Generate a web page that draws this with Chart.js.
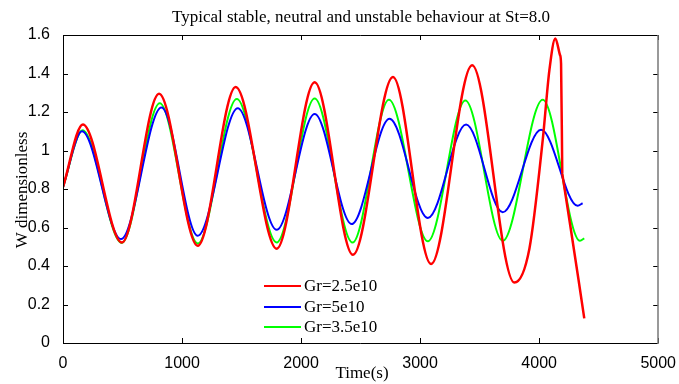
<!DOCTYPE html>
<html>
<head>
<meta charset="utf-8">
<script src="https://cdn.jsdelivr.net/npm/chart.js@4.4.1/dist/chart.umd.min.js"></script>
<style>
  html, body { margin: 0; padding: 0; background: #fff; }
  #wrap { width: 679px; height: 384px; }
</style>
</head>
<body>
<div id="wrap"><canvas id="stChart"></canvas></div>
<script>
// valores (tiempo en s, W adimensional)
const redTime = [0, 167, 495, 807, 1132, 1451, 1795, 2114, 2436, 2772, 3092, 3437, 3792, 3918, 4030, 4086, 4136, 4175, 4184, 4194];
const redW = [0.81, 1.135, 0.522, 1.295, 0.505, 1.33, 0.49, 1.354, 0.458, 1.382, 0.41, 1.443, 0.314, 0.49, 1.055, 1.418, 1.582, 1.496, 1.45, 0.88];
// la caida final del rojo es casi recta
const redTailTime = [4194, 4267, 4331, 4379];
const redTailW = [0.88, 0.587, 0.327, 0.128];

const blueTime = [0, 159, 488, 827, 1132, 1468, 1795, 2114, 2425, 2743, 3065, 3386, 3694, 4016, 4323, 4365];
const blueW = [0.81, 1.10, 0.54, 1.224, 0.557, 1.22, 0.588, 1.19, 0.618, 1.165, 0.649, 1.135, 0.679, 1.108, 0.713, 0.726];

const greenTime = [0, 164, 493, 813, 1132, 1460, 1795, 2114, 2432, 2738, 3065, 3380, 3694, 4030, 4343, 4379];
const greenW = [0.81, 1.105, 0.52, 1.245, 0.517, 1.268, 0.522, 1.27, 0.522, 1.264, 0.528, 1.26, 0.531, 1.264, 0.531, 0.544];

const seriesLabels = ['Gr=2.5e10', 'Gr=5e10', 'Gr=3.5e10'];
const seriesColors = ['#ff0000', '#0000ff', '#00ff00'];
const xTicks = [0, 1000, 2000, 3000, 4000, 5000];
const yTicks = [0, 0.2, 0.4, 0.6, 0.8, 1, 1.2, 1.4, 1.6];

function pairs(t, w) {
  return t.map((v, i) => ({ x: v, y: w[i] }));
}

const serif = '"Liberation Serif", "Times New Roman", serif';
const sans = '"Liberation Sans", Arial, sans-serif';

// caja, marcas hacia dentro, titulos y leyenda al estilo matlab
const matlabBox = {
  id: 'matlabBox',
  afterDraw(chart) {
    const { ctx, chartArea: a, scales } = chart;
    ctx.save();
    ctx.lineWidth = 1;
    ctx.strokeStyle = '#000';
    xTicks.forEach(v => {
      const px = Math.round(scales.x.getPixelForValue(v)) + 0.5;
      ctx.beginPath();
      ctx.moveTo(px, a.bottom); ctx.lineTo(px, a.bottom - 5);
      ctx.moveTo(px, a.top); ctx.lineTo(px, a.top + 5);
      ctx.stroke();
    });
    yTicks.forEach(v => {
      const py = Math.round(scales.y.getPixelForValue(v)) + 0.5;
      ctx.beginPath();
      ctx.moveTo(a.left, py); ctx.lineTo(a.left + 5, py);
      ctx.moveTo(a.right, py); ctx.lineTo(a.right - 5, py);
      ctx.stroke();
    });
    ctx.beginPath();
    ctx.moveTo(Math.round(a.right), Math.round(a.top) + 0.5);
    ctx.lineTo(Math.round(a.left) + 0.5, Math.round(a.top) + 0.5);
    ctx.lineTo(Math.round(a.left) + 0.5, Math.round(a.bottom) + 0.5);
    ctx.lineTo(Math.round(a.right), Math.round(a.bottom) + 0.5);
    ctx.stroke();
    ctx.strokeStyle = '#777';
    ctx.lineWidth = 1.5;
    ctx.beginPath();
    ctx.moveTo(Math.round(a.right), a.top);
    ctx.lineTo(Math.round(a.right), a.bottom + 1);
    ctx.stroke();

    // textos
    ctx.fillStyle = '#000';
    ctx.font = '17px ' + serif;
    ctx.textAlign = 'center';
    ctx.textBaseline = 'alphabetic';
    ctx.fillText('Typical stable, neutral and unstable behaviour at St=8.0', 361, 22);
    ctx.fillText('Time(s)', 362, 378);
    ctx.save();
    ctx.translate(27, 190);
    ctx.rotate(-Math.PI / 2);
    ctx.fillText('W dimensionless', 0, 0);
    ctx.restore();

    // leyenda
    const rows = [286, 307, 327];
    ctx.textAlign = 'left';
    ctx.textBaseline = 'middle';
    seriesLabels.forEach((lab, i) => {
      ctx.strokeStyle = seriesColors[i];
      ctx.lineWidth = 2;
      ctx.beginPath();
      ctx.moveTo(264, rows[i]);
      ctx.lineTo(301, rows[i]);
      ctx.stroke();
      ctx.fillText(lab, 304, rows[i] + 1);
    });
    ctx.restore();
  }
};

const data = {
  datasets: [
    { label: seriesLabels[0], data: pairs(redTime, redW), borderColor: seriesColors[0], borderWidth: 2.5 },
    { label: seriesLabels[0] + ' tail', data: pairs(redTailTime, redTailW), borderColor: seriesColors[0], borderWidth: 2.5, cubicInterpolationMode: 'default', tension: 0 },
    { label: seriesLabels[1], data: pairs(blueTime, blueW), borderColor: seriesColors[1], borderWidth: 2 },
    { label: seriesLabels[2], data: pairs(greenTime, greenW), borderColor: seriesColors[2], borderWidth: 2 }
  ]
};

const config = {
  type: 'line',
  data: data,
  options: {
    responsive: false,
    animation: false,
    devicePixelRatio: 1,
    layout: { padding: { top: 35, right: 20, left: 0, bottom: 0 } },
    elements: {
      point: { radius: 0 },
      line: { cubicInterpolationMode: 'monotone', fill: false }
    },
    plugins: {
      legend: { display: false },
      tooltip: { enabled: false },
      title: { display: false }
    },
    scales: {
      x: {
        type: 'linear',
        min: 0,
        max: 5000,
        grid: { display: false },
        border: { display: false },
        afterFit: s => { s.height = 41; },
        afterBuildTicks: s => { s.ticks = xTicks.map(v => ({ value: v })); },
        ticks: { color: '#000', font: { family: sans, size: 16 }, padding: 3, maxRotation: 0,
          callback: v => String(v) }
      },
      y: {
        min: 0,
        max: 1.6,
        grid: { display: false },
        border: { display: false },
        afterFit: s => { s.width = 63; },
        afterBuildTicks: s => { s.ticks = yTicks.map(v => ({ value: v })); },
        ticks: { color: '#000', font: { family: sans, size: 16 }, padding: 5,
          callback: v => String(Math.round(v * 10) / 10) }
      }
    }
  },
  plugins: [matlabBox]
};

const canvas = document.getElementById('stChart');
canvas.width = 679;
canvas.height = 384;
const stChart = new Chart(canvas, config);
</script>
</body>
</html>
